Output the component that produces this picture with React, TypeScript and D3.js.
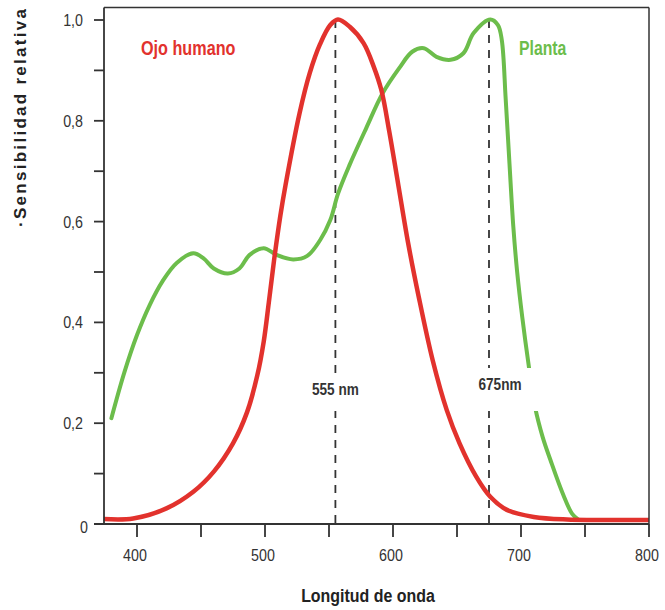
import React from 'react';
import * as d3 from 'd3';

const humanNm = [374, 397, 423, 444, 460, 475, 486, 494, 499, 503, 507, 512, 516, 527, 535, 543, 551, 557, 566, 577, 585, 591, 597, 604, 612, 620, 631, 642, 652, 665, 676, 689, 710, 736, 800];
const humanVal = [0.010, 0.011, 0.031, 0.064, 0.104, 0.160, 0.222, 0.295, 0.362, 0.440, 0.522, 0.612, 0.672, 0.815, 0.895, 0.952, 0.990, 1.001, 0.987, 0.954, 0.907, 0.860, 0.780, 0.675, 0.555, 0.452, 0.325, 0.226, 0.160, 0.094, 0.054, 0.028, 0.014, 0.009, 0.008];

const plantNm = [380, 390, 400, 410, 420, 431, 444, 452, 460, 471, 480, 488, 499, 509, 522, 533, 543, 551, 557, 566, 579, 592, 605, 615, 624, 634, 645, 655, 663, 676, 682, 685, 688, 691, 694, 697, 701, 706, 711, 717, 723, 733, 740, 745];
const plantVal = [0.210, 0.300, 0.375, 0.435, 0.482, 0.518, 0.537, 0.527, 0.507, 0.497, 0.507, 0.534, 0.547, 0.534, 0.525, 0.532, 0.563, 0.603, 0.655, 0.712, 0.785, 0.855, 0.905, 0.937, 0.944, 0.927, 0.921, 0.934, 0.974, 1.001, 0.990, 0.960, 0.845, 0.715, 0.590, 0.500, 0.410, 0.315, 0.232, 0.172, 0.127, 0.058, 0.020, 0.008];

const xTicks = [400, 450, 500, 550, 600, 650, 700, 750, 800];
const xTickLabels = ['400', '500', '600', '700', '800'];
const yTicks = [0, 0.1, 0.2, 0.3, 0.4, 0.5, 0.6, 0.7, 0.8, 0.9, 1.0];
const yTickLabels = ['0', '0,2', '0,4', '0,6', '0,8', '1,0'];
const peaks = [555, 675];
const peakLabels = ['555 nm', '675nm'];

const RED = '#e2322d';
const GREEN = '#6cbd4b';
const AXIS = '#333333';
const FONT = '"Liberation Sans", Arial, Helvetica, sans-serif';

function NText(props: {
  x: number;
  y: number;
  sx?: number;
  size: number;
  bold?: boolean;
  anchor?: string;
  fill?: string;
  children: React.ReactNode;
}) {
  const { x, y, sx = 0.82, size, bold, anchor = 'start', fill = '#333', children } = props;
  return (
    <text
      transform={`translate(${x},${y}) scale(${sx},1)`}
      textAnchor={anchor}
      fontFamily={FONT}
      fontWeight={bold ? 'bold' : 'normal'}
      fontSize={size}
      fill={fill}
    >
      {children}
    </text>
  );
}

export default function App() {
  const x = d3.scaleLinear().domain([400, 800]).range([137, 649]);
  const y = d3.scaleLinear().domain([0, 1]).range([524, 20]);
  const left = 104;
  const top = 7.5;
  const right = 649;
  const bottom = 524;

  const line = d3
    .line<[number, number]>()
    .x((d) => x(d[0]))
    .y((d) => y(d[1]))
    .curve(d3.curveCatmullRom.alpha(0.5));

  const human = humanNm.map((n, i) => [n, humanVal[i]] as [number, number]);
  const plant = plantNm.map((n, i) => [n, plantVal[i]] as [number, number]);

  const labelBoxes = [
    { x0: 308, x1: 362, y0: 373, y1: 411, tx: x(peaks[0]), ty: 395 },
    { x0: 475, x1: 538, y0: 368, y1: 411, tx: x(peaks[1]) + 11, ty: 390 },
  ];

  return (
    <svg width={665} height={610} style={{ position: 'absolute', left: 0, top: 0, background: '#fff' }}>
      <rect x={0} y={0} width={665} height={610} fill="#fff" />
      {peaks.map((p) => (
        <line key={p} x1={x(p)} x2={x(p)} y1={y(1)} y2={bottom} stroke={AXIS} strokeWidth={1.8} strokeDasharray="8,7" />
      ))}
      <path d={line(plant) || ''} fill="none" stroke={GREEN} strokeWidth={4} strokeLinejoin="round" strokeLinecap="round" />
      <path d={line(human) || ''} fill="none" stroke={RED} strokeWidth={4.5} strokeLinejoin="round" strokeLinecap="butt" />
      {labelBoxes.map((b, i) => (
        <g key={i}>
          <rect x={b.x0} y={b.y0} width={b.x1 - b.x0} height={b.y1 - b.y0} fill="#fff" />
          <NText x={b.tx} y={b.ty} size={16} bold anchor="middle" sx={0.85}>
            {peakLabels[i]}
          </NText>
        </g>
      ))}
      <line x1={left} x2={right} y1={top} y2={top} stroke={AXIS} strokeWidth={1.5} />
      <line x1={right} x2={right} y1={top} y2={bottom} stroke={AXIS} strokeWidth={1.5} />
      <line x1={left} x2={left} y1={top} y2={bottom} stroke={AXIS} strokeWidth={1.8} />
      <line x1={94} x2={right} y1={bottom} y2={bottom} stroke={AXIS} strokeWidth={1.8} />
      {yTicks.map((t) => (
        <line key={t} x1={94} x2={left} y1={y(t)} y2={y(t)} stroke={AXIS} strokeWidth={1.8} />
      ))}
      {yTickLabels.map((l, i) => (
        <NText key={l} x={i === 0 ? 88 : 83} y={y(i * 0.2) + (i === 0 ? 9 : 6)} size={17} anchor="end" sx={0.84}>
          {l}
        </NText>
      ))}
      {xTicks.map((t) => (
        <line key={t} x1={x(t)} x2={x(t)} y1={bottom} y2={bottom + 13} stroke={AXIS} strokeWidth={1.8} />
      ))}
      {xTickLabels.map((l) => (
        <NText key={l} x={x(+l) - 2} y={561} size={17} anchor="middle" sx={0.84}>
          {l}
        </NText>
      ))}
      <NText x={141} y={55} size={20} bold fill={RED} sx={0.81}>
        Ojo humano
      </NText>
      <NText x={519} y={55} size={20} bold fill={GREEN} sx={0.79}>
        Planta
      </NText>
      <NText x={368} y={602} size={19} bold anchor="middle" fill="#222" sx={0.84}>
        Longitud de onda
      </NText>
      <text
        transform="translate(26,118) rotate(-90)"
        textAnchor="middle"
        fontFamily={FONT}
        fontWeight="bold"
        fontSize={17}
        textLength={218}
        lengthAdjust="spacing"
        fill="#222"
      >
        ·Sensibilidad relativa
      </text>
    </svg>
  );
}
